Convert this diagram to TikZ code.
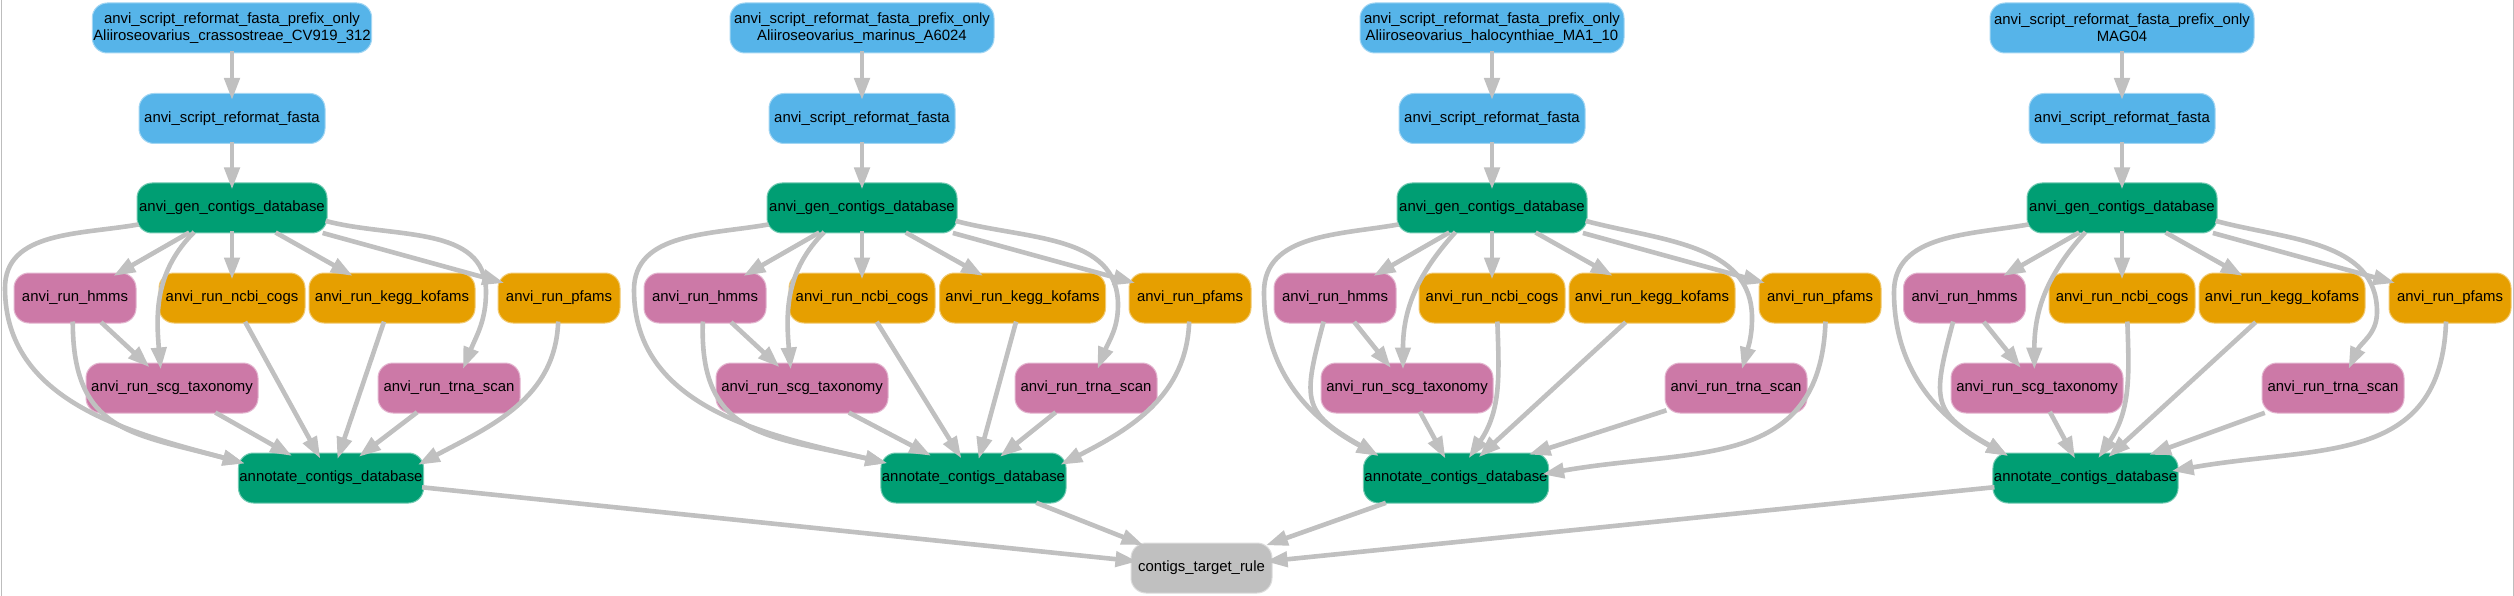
\documentclass[tikz,border=0pt]{standalone}
\usepackage{fontspec}
\setmainfont{Liberation Sans}
\usetikzlibrary{arrows.meta,calc}
\definecolor{cblue}{HTML}{56B4E9}
\definecolor{cgreen}{HTML}{009E73}
\definecolor{cpink}{HTML}{CC79A7}
\definecolor{corange}{HTML}{E69F00}
\definecolor{cgray}{HTML}{C0C0C0}
\definecolor{cframe}{HTML}{BDBDBD}
\newcommand\anviGroup[9]{%
  \node[bluebox, minimum width=264pt] (P#1) at (#3,-28) {anvi\_script\_reformat\_fasta\_prefix\_only\\#2};
  \node[bluebox, minimum width=186pt] (R#1) at (#3,-118.5) {anvi\_script\_reformat\_fasta};
  \node[greenbox, minimum width=190pt] (G#1) at (#3,-208) {anvi\_gen\_contigs\_database};
  \node[pinkbox, minimum width=122pt] (H#1) at (#4,-298) {anvi\_run\_hmms};
  \node[orangebox, minimum width=146pt] (N#1) at (#3,-298) {anvi\_run\_ncbi\_cogs};
  \node[orangebox, minimum width=166pt] (K#1) at (#5,-298) {anvi\_run\_kegg\_kofams};
  \node[orangebox, minimum width=122pt] (F#1) at (#6,-298) {anvi\_run\_pfams};
  \node[pinkbox, minimum width=172pt] (S#1) at (#7,-388) {anvi\_run\_scg\_taxonomy};
  \node[pinkbox, minimum width=142pt] (T#1) at (#8,-388) {anvi\_run\_trna\_scan};
  \node[greenbox, minimum width=185pt] (A#1) at (#9,-478) {annotate\_contigs\_database};
  \draw[conn] (P#1) -- (R#1);
  \draw[conn] (R#1) -- (G#1);
  \draw[conn] (G#1) -- (H#1);
  \draw[conn] (G#1) -- (N#1);
  \draw[conn] (G#1) -- (K#1);
  \draw[conn] (G#1) -- (F#1);
  \draw[conn] (H#1) -- (S#1);
  \draw[conn] (K#1) -- (A#1);
  \draw[conn] (S#1) -- (A#1);
  \draw[conn] (T#1) -- (A#1);
  \draw[conn] (A#1) -- (C);
}
\begin{document}
\begin{tikzpicture}[x=1pt,y=1pt,
  box/.style={rounded corners=15pt, minimum height=50pt, inner xsep=1pt, inner ysep=0pt,
    font=\fontsize{14.9pt}{17pt}\selectfont, align=center, text=black, line width=1pt},
  bluebox/.style={box, fill=cblue, draw=cblue!55!white},
  greenbox/.style={box, fill=cgreen, draw=cgreen!55!white},
  pinkbox/.style={box, fill=cpink, draw=cpink!55!white},
  orangebox/.style={box, fill=corange, draw=corange!55!white},
  graybox/.style={box, fill=cgray, draw=cgray!55!white},
  conn/.style={draw=cgray, line width=4.6pt, shorten >=-7pt, shorten <=-2pt,
    -{Triangle[length=22pt,width=15pt]}},
]
\fill[white] (0,0) rectangle (2514,-596);
\useasboundingbox (0,0) rectangle (2514,-596);
\draw[cframe, line width=1pt] (1,0) -- (1,-596);
\draw[cframe, line width=1pt] (2513,0) -- (2513,-596);

\node[graybox, minimum width=141pt] (C) at (1201.5,-568) {contigs\_target\_rule};

\anviGroup{1}{Aliiroseovarius\_crassostreae\_CV919\_312}{232}{75}{392}{559}{172}{449}{331}
\anviGroup{2}{Aliiroseovarius\_marinus\_A6024}{862}{705}{1022.5}{1190}{802}{1086}{973.5}
\anviGroup{3}{Aliiroseovarius\_halocynthiae\_MA1\_10}{1492}{1335}{1652}{1820}{1407}{1736}{1456}
\anviGroup{4}{MAG04}{2122}{1964.5}{2282}{2450}{2037}{2333}{2085.5}

% group 1 curved connectors
\draw[conn] (G1.190) to[out=190,in=90] (5,-288) to[out=-90,in=165] (A1.170);
\draw[conn] (H1.-95) to[out=-90,in=165,looseness=1.3] (A1.170);
\draw[conn] (G1.213) to[out=225,in=95] (S1.115);
\draw[conn] (G1.-8) to[out=-15,in=90] (486,-292) to[out=-90,in=68] (T1.57);
\draw[conn] (F1.-92) to[out=-92,in=28] (A1.10);
\draw[conn] (N1) -- (A1);

% group 2
\draw[conn] (G2.190) to[out=190,in=90] (634,-290) to[out=-90,in=167] (A2.170);
\draw[conn] (H2.-95) to[out=-92,in=167,looseness=1.3] (A2.170);
\draw[conn] (G2.213) to[out=225,in=95] (S2.115);
\draw[conn] (G2.-8) to[out=-15,in=90] (1118,-305) to[out=-90,in=68] (T2.61);
\draw[conn] (F2.-92) to[out=-92,in=27] (A2.10);
\draw[conn] (N2) -- (A2);

% group 3
\draw[conn] (G3.190) to[out=190,in=90] (1264,-292) to[out=-90,in=152] (A3.163);
\draw[conn] (H3.-115) to[out=-105,in=150,looseness=1.5] (A3.163);
\draw[conn] (G3.214) to[out=228,in=90] (S3.99);
\draw[conn] (G3.-8) to[out=-15,in=90] (1752,-318) to[out=-90,in=74] (T3.73);
\draw[conn] (F3.-78) to[out=-92,in=10,looseness=1.2] (A3.3);
\draw[conn] (N3.-78) to[out=-88,in=56] (A3.57);

% group 4
\draw[conn] (G4.190) to[out=190,in=90] (1894,-292) to[out=-90,in=152] (A4.163);
\draw[conn] (H4.-115) to[out=-105,in=150,looseness=1.5] (A4.163);
\draw[conn] (G4.214) to[out=228,in=90] (S4.96);
\draw[conn] (G4.-8) to[out=-15,in=90] (2377,-312) to[out=-90,in=65] (T4.54);
\draw[conn] (F4.-99) to[out=-92,in=10,looseness=1.2] (A4.5);
\draw[conn] (N4.-78) to[out=-88,in=56] (A4.57);
\end{tikzpicture}
\end{document}
